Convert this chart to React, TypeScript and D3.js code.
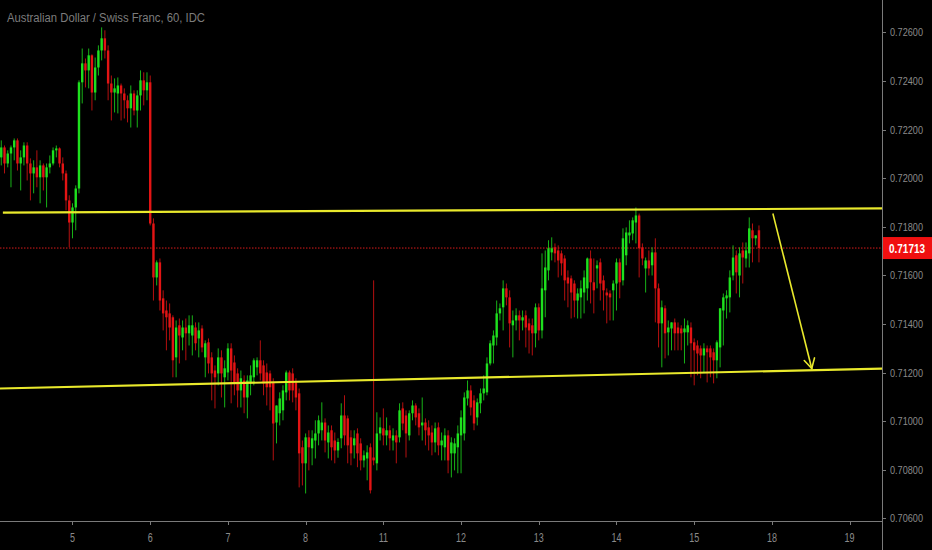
import React, { useEffect, useRef } from 'react';
import * as d3 from 'd3';

const TITLE = 'Australian Dollar / Swiss Franc, 60, IDC';

// hourly candles [open, high, low, close], in 0.00001 above 0.70000
const BASE = 0.7;
const candles: number[][] = [
  [2086,2156,2053,2127],[2127,2135,2020,2061],[2061,2115,2045,2102],[2102,2135,1963,2127],
  [2127,2164,2074,2156],[2156,2164,2032,2061],[2061,2115,1950,2086],[2086,2148,2053,2135],
  [2135,2148,1991,2061],[2061,2082,1909,2020],[2020,2074,1938,2045],[2045,2115,1963,2004],
  [2004,2074,1897,2053],[2053,2061,1950,2004],[2004,2061,1880,2045],[2045,2094,2020,2061],
  [2061,2127,2053,2115],[2115,2135,2086,2123],[2123,2127,2045,2061],[2061,2086,1991,2020],
  [2020,2032,1868,1909],[1909,1930,1716,1818],[1818,1897,1753,1880],[1880,1971,1786,1958],
  [1958,2403,1938,2395],[2395,2534,2308,2473],[2473,2493,2374,2444],[2444,2534,2370,2506],
  [2506,2510,2279,2353],[2353,2497,2321,2456],[2456,2547,2423,2526],[2526,2621,2485,2576],
  [2576,2609,2493,2526],[2526,2547,2321,2390],[2390,2423,2238,2353],[2353,2411,2271,2370],
  [2349,2415,2267,2382],[2382,2390,2238,2349],[2349,2370,2246,2321],[2321,2341,2230,2288],
  [2288,2382,2209,2349],[2349,2362,2259,2279],[2279,2362,2209,2341],[2341,2444,2279,2403],
  [2403,2436,2300,2362],[2362,2436,2321,2395],[2395,2423,1806,1814],
  [1814,1835,1497,1592],[1592,1662,1559,1654],[1654,1670,1456,1497],[1506,1539,1374,1444],
  [1456,1497,1292,1428],[1444,1485,1333,1386],[1428,1436,1181,1251],[1263,1415,1181,1386],
  [1395,1423,1238,1353],[1345,1415,1292,1386],[1386,1423,1251,1362],[1362,1436,1312,1395],
  [1353,1436,1271,1395],[1386,1407,1292,1321],[1341,1407,1263,1374],[1382,1395,1284,1304],
  [1263,1333,1181,1321],[1325,1341,1197,1238],[1263,1284,1086,1197],[1209,1230,1053,1181],
  [1197,1300,1148,1263],[1263,1292,1098,1197],[1181,1251,1057,1218],[1201,1321,1168,1300],
  [1300,1321,1074,1209],[1242,1271,1107,1156],[1197,1218,1057,1127],[1127,1209,1057,1177],
  [1168,1189,1033,1098],[1098,1189,1012,1168],[1160,1230,1107,1189],[1181,1259,1148,1251],
  [1222,1263,1189,1251],[1251,1333,1168,1197],[1230,1251,1107,1156],[1201,1238,1065,1140],
  [1197,1209,1045,1140],[1160,1177,839,991],[995,1065,909,1065],[1033,1119,983,1094],
  [1045,1148,1004,1127],[1119,1209,1086,1201],[1201,1209,1086,1127],[1197,1218,1078,1127],
  [1160,1177,1045,1098],[1115,1135,728,868],[893,921,736,827],[827,950,703,934],
  [934,963,798,893],[889,963,819,930],[921,1004,847,950],[950,1024,901,1004],
  [963,1078,921,995],[995,1012,872,921],[913,983,847,954],[963,983,839,893],
  [921,954,827,880],[880,930,850,915],[930,1074,889,1024],[1024,1107,901,942],
  [1012,1024,827,901],[934,963,819,868],[901,963,847,930],[950,971,811,868],
  [909,930,798,839],[839,880,810,860],[847,901,757,872],[893,909,703,716],
  [851,1580,819,839],
  [827,1037,798,950],[950,1016,921,975],[971,1053,901,942],[942,1016,901,963],
  [963,983,880,930],[921,971,880,942],[942,963,827,913],[934,1074,913,1045],
  [1053,1078,963,991],[1024,1045,851,950],[942,1045,921,1033],[1033,1086,1004,1065],
  [1065,1074,983,1016],[1033,1053,942,975],[983,1098,921,995],[995,1012,901,963],
  [975,1004,880,942],[954,983,860,913],[913,995,872,971],[975,995,860,901],
  [901,954,839,921],[893,971,839,942],[942,963,786,839],[868,934,769,913],
  [868,930,798,909],[893,983,786,950],[942,1045,786,1016],[950,1119,921,1098],
  [1094,1168,1065,1127],[1127,1148,1024,1057],[1086,1107,963,991],[1016,1094,983,1078],
  [1074,1135,1033,1115],[1115,1189,1086,1135],[1119,1263,1107,1238],[1238,1333,1230,1321],
  [1312,1374,1238,1353],[1345,1497,1312,1444],[1444,1485,1415,1465],[1469,1580,1374,1547],
  [1547,1567,1477,1510],[1510,1539,1304,1403],[1395,1456,1263,1415],[1415,1465,1374,1436],
  [1436,1456,1333,1415],[1415,1456,1374,1428],[1436,1456,1304,1386],[1403,1423,1279,1374],
  [1395,1423,1271,1362],[1362,1485,1304,1469],[1469,1485,1333,1374],[1374,1691,1341,1547],
  [1539,1703,1428,1633],[1621,1745,1580,1712],[1695,1757,1662,1712],[1716,1732,1654,1691],
  [1703,1724,1592,1662],[1691,1703,1600,1650],[1670,1683,1497,1580],[1592,1621,1469,1567],
  [1588,1600,1423,1530],[1567,1580,1428,1497],[1497,1547,1423,1526],[1510,1580,1423,1547],
  [1530,1621,1444,1592],[1547,1674,1497,1670],[1670,1703,1485,1572],[1572,1670,1444,1539],
  [1629,1662,1547,1642],[1654,1670,1497,1567],[1580,1600,1456,1539],[1530,1547,1403,1518],
  [1526,1539,1415,1510],[1539,1580,1415,1567],[1567,1670,1456,1654],[1654,1670,1506,1572],
  [1580,1794,1559,1753],[1683,1798,1642,1777],[1765,1827,1732,1777],[1773,1839,1745,1827],
  [1818,1880,1732,1847],[1847,1855,1592,1712],[1716,1732,1642,1670],[1629,1674,1530,1662],
  [1662,1703,1600,1629],[1642,1716,1600,1695],[1695,1753,1407,1547],[1547,1567,1304,1403],
  [1403,1497,1222,1469],[1465,1477,1259,1362],[1366,1415,1271,1386],[1382,1407,1292,1407],
  [1407,1423,1292,1362],[1386,1407,1292,1362],[1382,1395,1292,1362],[1366,1423,1238,1382],
  [1366,1415,1312,1395],[1386,1407,1181,1321],[1325,1341,1148,1292],[1312,1333,1189,1279],
  [1300,1312,1177,1271],[1271,1321,1201,1300],[1300,1312,1160,1284],[1300,1312,1181,1263],
  [1284,1300,1156,1251],[1251,1333,1177,1325],[1304,1465,1222,1465],[1456,1526,1312,1510],
  [1506,1539,1423,1518],[1510,1621,1448,1592],[1600,1724,1580,1674],[1683,1703,1526,1613],
  [1600,1716,1510,1691],[1703,1736,1567,1674],[1670,1736,1633,1703],[1691,1839,1633,1794],
  [1786,1814,1654,1753],[1753,1765,1724,1765],[1786,1806,1654,1713],
];

const dayLabels = ['5', '6', '7', '8', '11', '12', '13', '14', '15', '18', '19'];
const dayStarts = [22, 46, 70, 94, 118, 142, 166, 190, 214, 238, 262];
const priceTicks = [0.706, 0.708, 0.71, 0.712, 0.714, 0.716, 0.718, 0.72, 0.722, 0.724, 0.726];
const lastPrice = 0.71713;

// drawn lines: [candle index, price]
const upperLine = [[0.5, 0.71859], [272, 0.71876]];
const lowerLine = [[-0.4, 0.71135], [272, 0.71217]];
const arrowLine = [[238.3, 0.71855], [250.3, 0.71217]];

const W = 932;
const H = 550;
const PLOT_R = 882;
const PLOT_B = 521;

const App: React.FC = () => {
  const svgRef = useRef<SVGSVGElement>(null);

  useEffect(() => {
    document.body.style.margin = '0';
    document.body.style.background = '#000';
    if (!svgRef.current) return;
    const svg = d3.select(svgRef.current);
    svg.selectAll('*').remove();

    const x = d3.scaleLinear().domain([-0.39, 272]).range([0, PLOT_R]);
    const y = d3.scaleLinear().domain([0.705897, 0.727337]).range([PLOT_B, 0]);
    const up = '#1ee01e';
    const down = '#e31414';
    const grey = '#8a8a8a';

    svg.append('rect').attr('width', W).attr('height', H).attr('fill', '#000');

    svg.append('defs').append('clipPath').attr('id', 'plot')
      .append('rect').attr('width', PLOT_R).attr('height', PLOT_B);

    const plot = svg.append('g').attr('clip-path', 'url(#plot)');

    // last price dotted line
    plot.append('line')
      .attr('x1', 0).attr('x2', PLOT_R)
      .attr('y1', y(lastPrice)).attr('y2', y(lastPrice))
      .attr('stroke', '#ff2020').attr('stroke-width', 1)
      .attr('stroke-dasharray', '1.5,1.5').attr('opacity', 0.85);

    // candles
    const g = plot.append('g');
    candles.forEach((c, i) => {
      const [o, h, l, cl] = c.map(v => BASE + v / 100000);
      const col = cl >= o ? up : down;
      const cx = x(i);
      g.append('line')
        .attr('x1', cx).attr('x2', cx)
        .attr('y1', y(h)).attr('y2', y(l))
        .attr('stroke', col).attr('stroke-width', 1).attr('opacity', 0.8);
      const top = y(Math.max(o, cl));
      const bh = Math.max(1, Math.abs(y(o) - y(cl)));
      g.append('rect')
        .attr('x', cx - 1.2).attr('width', 2.4)
        .attr('y', top).attr('height', bh)
        .attr('fill', col);
    });

    // trend lines
    const yellow = '#e9e92c';
    const ln = d3.line<number[]>().x(d => x(d[0])).y(d => y(d[1]));
    [upperLine, lowerLine].forEach(pts => {
      plot.append('path').attr('d', ln(pts)).attr('fill', 'none')
        .attr('stroke', yellow).attr('stroke-width', 2.2);
    });

    // arrow
    plot.append('path').attr('d', ln(arrowLine)).attr('fill', 'none')
      .attr('stroke', yellow).attr('stroke-width', 1.6);
    const ax0 = x(arrowLine[0][0]), ay0 = y(arrowLine[0][1]);
    const ax1 = x(arrowLine[1][0]), ay1 = y(arrowLine[1][1]);
    const ang = Math.atan2(ay1 - ay0, ax1 - ax0);
    const headLen = 11;
    [-0.5, 0.5].forEach(da => {
      plot.append('line')
        .attr('x1', ax1).attr('y1', ay1)
        .attr('x2', ax1 - headLen * Math.cos(ang + da))
        .attr('y2', ay1 - headLen * Math.sin(ang + da))
        .attr('stroke', yellow).attr('stroke-width', 1.6).attr('stroke-linecap', 'round');
    });

    // axes lines
    svg.append('line').attr('x1', PLOT_R + 0.5).attr('x2', PLOT_R + 0.5)
      .attr('y1', 0).attr('y2', H).attr('stroke', '#7a7a7a');
    svg.append('line').attr('x1', 0).attr('x2', PLOT_R)
      .attr('y1', PLOT_B + 0.5).attr('y2', PLOT_B + 0.5).attr('stroke', '#7a7a7a');

    // price axis
    const pa = svg.append('g');
    priceTicks.forEach(p => {
      pa.append('line').attr('x1', PLOT_R).attr('x2', PLOT_R + 4)
        .attr('y1', Math.round(y(p)) + 0.5).attr('y2', Math.round(y(p)) + 0.5)
        .attr('stroke', '#7a7a7a');
      pa.append('text').attr('x', 890).attr('y', y(p) + 4)
        .attr('fill', grey).attr('font-size', 11)
        .attr('font-family', 'Liberation Sans, Arial, sans-serif')
        .attr('textLength', 33).attr('lengthAdjust', 'spacingAndGlyphs')
        .text(p.toFixed(5));
    });

    // last price label
    pa.append('rect').attr('x', PLOT_R + 1).attr('y', y(lastPrice) - 11)
      .attr('width', W - PLOT_R - 1).attr('height', 22).attr('fill', '#f01010');
    pa.append('text').attr('x', 889).attr('y', y(lastPrice) + 4.5)
      .attr('fill', '#fff').attr('font-size', 12).attr('font-weight', 'bold')
      .attr('font-family', 'Liberation Sans, Arial, sans-serif')
      .attr('textLength', 36).attr('lengthAdjust', 'spacingAndGlyphs')
      .text(lastPrice.toFixed(5));

    // time axis
    const ta = svg.append('g');
    dayStarts.forEach((d, i) => {
      ta.append('line').attr('x1', Math.round(x(d)) + 0.5).attr('x2', Math.round(x(d)) + 0.5)
        .attr('y1', PLOT_B).attr('y2', PLOT_B + 4).attr('stroke', '#7a7a7a');
      ta.append('text').attr('x', x(d)).attr('y', 542)
        .attr('text-anchor', 'middle').attr('fill', grey).attr('font-size', 12)
        .attr('font-family', 'Liberation Sans, Arial, sans-serif')
        .attr('transform', `translate(${x(d)},0) scale(0.75,1) translate(${-x(d)},0)`)
        .text(dayLabels[i]);
    });

    // title
    svg.append('text').attr('x', 7).attr('y', 22)
      .attr('fill', '#7c7c7c').attr('font-size', 12.5)
      .attr('font-family', 'Liberation Sans, Arial, sans-serif')
      .attr('textLength', 198).attr('lengthAdjust', 'spacingAndGlyphs')
      .text(TITLE);
  }, []);

  return (
    <div style={{ position: 'absolute', left: 0, top: 0, width: W, height: H }}>
      <svg ref={svgRef} width={W} height={H} style={{ display: 'block' }} />
    </div>
  );
};

export default App;
